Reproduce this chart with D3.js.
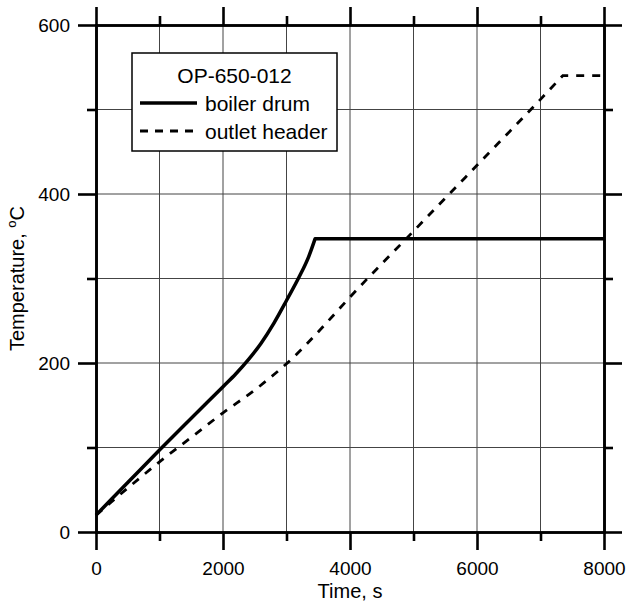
<!DOCTYPE html>
<html>
<head>
<meta charset="utf-8">
<script src="https://cdn.jsdelivr.net/npm/d3@7/dist/d3.min.js"></script>
<style>
  body { margin: 0; background: #fff; }
  text { font-family: "Liberation Sans", Arial, sans-serif; fill: #000; }
  .axis path, .axis line { stroke: #000; stroke-width: 2.6; }
  .axis text { font-size: 19px; font-family: "Liberation Sans", Arial, sans-serif; }
  .grid-line { stroke: #444; stroke-width: 1; }
</style>
</head>
<body>
<svg id="chart"></svg>
<script>
// Chart data
var boilerTime = [0, 500, 1000, 1500, 2000, 2200, 2400, 2600, 2800, 3000, 3200, 3350, 3450, 8000];
var boilerTemp = [20, 58.5, 97, 134.5, 172, 187, 204, 223.5, 247, 274, 302, 326, 347, 347];

var outletTime = [0, 500, 1000, 1500, 2000, 2500, 2700, 2900, 3100, 3300, 3600, 4000, 5000, 6000, 7000, 7350, 8000];
var outletTemp = [20, 52, 83, 112, 141, 168, 180, 192.5, 206, 221, 245, 278, 356, 434, 512, 540, 540];

var legendTitle = "OP-650-012";
var seriesNames = ["boiler drum", "outlet header"];

// Tick values
var xMajor = [0, 2000, 4000, 6000, 8000];
var xMinor = [1000, 3000, 5000, 7000];
var yMajor = [0, 200, 400, 600];
var yMinor = [100, 300, 500];

// SVG size params
var W = 637, H = 603;
var margin = {top: 25, right: 33, bottom: 71, left: 96};
var width = W - margin.left - margin.right;
var height = H - margin.top - margin.bottom;

var svg = d3.select("#chart")
    .attr("width", W)
    .attr("height", H)
  .append("g")
    .attr("transform", "translate(" + margin.left + "," + margin.top + ")");

// Scales
var x = d3.scaleLinear().domain([0, 8000]).range([0, width]);
var y = d3.scaleLinear().domain([0, 600]).range([height, 0]);

// Grid lines
var gx = d3.range(1000, 8000, 1000);
var gy = d3.range(100, 600, 100);
var grid = svg.append("g").attr("id", "grid-lines");
grid.selectAll(".gv").data(gx).enter().append("line")
    .attr("class", "grid-line")
    .attr("x1", d => x(d)).attr("x2", d => x(d))
    .attr("y1", 0).attr("y2", height);
grid.selectAll(".gh").data(gy).enter().append("line")
    .attr("class", "grid-line")
    .attr("x1", 0).attr("x2", width)
    .attr("y1", d => y(d)).attr("y2", d => y(d));

// Axes: major ticks long, minor ticks short, ticks outward on all sides
var MAJ = 18, MIN = 9;

function addAxis(axisFn, scale, vals, size, transform, labels, pad) {
  var a = axisFn(scale).tickValues(vals).tickSize(size).tickSizeOuter(0);
  if (labels) a.tickPadding(pad).tickFormat(d3.format("d")); else a.tickFormat("");
  svg.append("g")
      .attr("class", "axis")
      .attr("transform", transform)
      .call(a);
}

addAxis(d3.axisBottom, x, xMajor, MAJ, "translate(0," + height + ")", true, 12);
addAxis(d3.axisBottom, x, xMinor, MIN, "translate(0," + height + ")", false);
addAxis(d3.axisTop, x, xMajor, MAJ, "translate(0,0)", false);
addAxis(d3.axisTop, x, xMinor, MIN, "translate(0,0)", false);
addAxis(d3.axisLeft, y, yMajor, MAJ, "translate(0,0)", true, 8);
addAxis(d3.axisLeft, y, yMinor, MIN, "translate(0,0)", false);
addAxis(d3.axisRight, y, yMajor, MAJ, "translate(" + width + ",0)", false);
addAxis(d3.axisRight, y, yMinor, MIN, "translate(" + width + ",0)", false);

svg.selectAll(".axis .domain").attr("stroke-linecap", "square");

// Axis titles
svg.append("text")
    .attr("x", width / 2)
    .attr("y", height + 66)
    .attr("text-anchor", "middle")
    .style("font-size", "20px")
    .text("Time, s");

var yt = svg.append("text")
    .attr("transform", "translate(-72," + (height / 2) + ") rotate(-90)")
    .attr("text-anchor", "middle")
    .style("font-size", "20px");
yt.append("tspan").text("Temperature, ");
yt.append("tspan").attr("dy", -8).style("font-size", "13px").text("o");
yt.append("tspan").attr("dy", 8).text("C");

// Lines: smooth rise, then straight plateau to the end
var rise = d3.line()
    .x(d => x(d[0]))
    .y(d => y(d[1]))
    .curve(d3.curveMonotoneX);

function pathFor(ts, vs) {
  var pts = d3.zip(ts, vs);
  var last = pts[pts.length - 1];
  return rise(pts.slice(0, -1)) + "L" + x(last[0]) + "," + y(last[1]);
}

svg.append("path")
    .attr("d", pathFor(outletTime, outletTemp))
    .attr("fill", "none")
    .attr("stroke", "#000")
    .attr("stroke-width", 2.8)
    .attr("stroke-dasharray", "8,8");

svg.append("path")
    .attr("d", pathFor(boilerTime, boilerTemp))
    .attr("fill", "none")
    .attr("stroke", "#000")
    .attr("stroke-width", 3.5)
    .attr("stroke-linejoin", "round");

// Legend
var lg = svg.append("g").attr("transform", "translate(36,28)");
lg.append("rect")
    .attr("width", 205).attr("height", 98)
    .attr("fill", "#fff").attr("stroke", "#000").attr("stroke-width", 1.5);
lg.append("text")
    .attr("x", 102.5).attr("y", 30)
    .attr("text-anchor", "middle")
    .style("font-size", "21px")
    .text(legendTitle);
var styles = [{w: 3.5, dash: null}, {w: 2.8, dash: "8,7"}];
seriesNames.forEach(function(name, i) {
  var yy = 50 + i * 28;
  lg.append("line")
      .attr("x1", 8).attr("x2", 65)
      .attr("y1", yy).attr("y2", yy)
      .attr("stroke", "#000")
      .attr("stroke-width", styles[i].w)
      .attr("stroke-dasharray", styles[i].dash);
  lg.append("text")
      .attr("x", 73).attr("y", yy + 8)
      .style("font-size", "21px")
      .text(name);
});
</script>
</body>
</html>
